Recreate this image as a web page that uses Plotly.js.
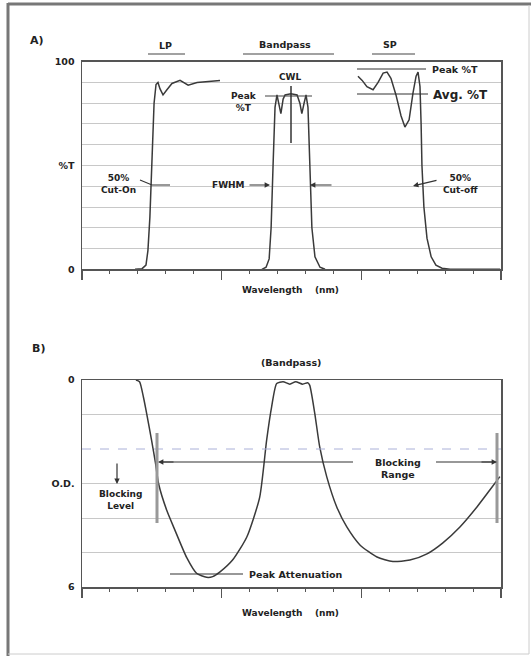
<!DOCTYPE html>
<html>
<head>
<meta charset="utf-8">
<script src="https://cdn.plot.ly/plotly-3.0.1.min.js"></script>
<style>html,body{margin:0;padding:0;background:#fff;}#chart{width:531px;height:656px;}</style>
</head>
<body>
<div id="chart"></div>
<script>
// ---- Data (wavelength in arbitrary units 0-15) ----
// Panel A: % transmission
const lpX = [1.90, 2.15, 2.29, 2.36, 2.43, 2.51, 2.58, 2.65, 2.72, 2.79, 2.90, 3.04, 3.22, 3.51, 3.80, 4.12, 4.48, 4.87, 4.94];
const lpY = [0, 0.3, 2, 9, 25, 55, 80, 89, 90, 87, 84, 86.5, 89.5, 91, 88.7, 90, 90.5, 91, 91];

const bpX = [6.44, 6.59, 6.70, 6.77, 6.84, 6.91, 6.98, 7.05, 7.12, 7.20, 7.27, 7.48, 7.70, 7.80, 7.87, 7.95, 8.02, 8.09, 8.16, 8.23, 8.34, 8.52, 8.70];
const bpY = [0, 1, 5, 20, 50, 78, 84, 80, 75, 82, 84, 84.5, 84, 80, 75, 80, 84, 78, 50, 20, 6, 1, 0];

const spX = [9.88, 10.03, 10.20, 10.42, 10.60, 10.78, 10.92, 11.06, 11.24, 11.42, 11.56, 11.71, 11.85, 11.96, 12.03, 12.10, 12.14, 12.17, 12.24, 12.35, 12.50, 12.67, 12.89, 13.18, 14.97];
const spY = [93, 91, 88, 86.5, 90, 94.5, 95, 92, 84, 74, 68.5, 72, 85, 93, 95, 88, 70, 50, 30, 15, 6, 2, 0.5, 0, 0];

// Panel B: optical density of the bandpass filter
const odX = [1.93, 2.06, 2.20, 2.31, 2.49, 2.63, 2.74, 3.03, 3.30, 3.75, 4.10, 4.46, 4.68, 4.93, 5.39, 5.90, 6.36, 6.61, 6.79, 6.97, 7.20, 7.44, 7.65, 7.90, 8.08, 8.15, 8.33, 8.51, 8.76, 9.12, 9.48, 9.95, 10.56, 11.13, 11.74, 12.35, 12.92, 13.53, 14.14, 14.60, 14.96];
const odY = [0.0, 0.05, 0.5, 0.95, 1.74, 2.4, 3.0, 3.77, 4.3, 5.15, 5.6, 5.72, 5.7, 5.57, 5.22, 4.55, 3.4, 1.74, 0.77, 0.1, 0.05, 0.12, 0.05, 0.12, 0.08, 0.15, 0.95, 1.94, 2.8, 3.68, 4.26, 4.78, 5.13, 5.26, 5.22, 5.04, 4.72, 4.26, 3.68, 3.19, 2.8];

const aTickVals = [0, 50, 100];
const aTickText = ['0', '%T', '100'];
const bTickVals = [0, 3, 6];
const bTickText = ['0', 'O.D.', '6'];

// ---- Layout helpers (pixel -> paper) ----
const W = 531, H = 656;
const px = v => v / W;
const py = v => 1 - v / H;
const FONT = {family: 'DejaVu Sans, Verdana, sans-serif', size: 9.5, color: '#222', weight: 700};
const f = (s) => Object.assign({}, FONT, s ? {size: s} : {});

function txt(x, y, t, opts) {
  return Object.assign({xref: 'paper', yref: 'paper', x: px(x), y: py(y), text: t, showarrow: false,
    font: f(), xanchor: 'center', yanchor: 'middle'}, opts || {});
}
function arrow(x, y, ax, ay) {
  return {xref: 'paper', yref: 'paper', x: px(x), y: py(y), ax: px(ax), ay: py(ay), axref: 'paper', ayref: 'paper',
    text: '', showarrow: true, arrowhead: 2, arrowsize: 0.9, arrowwidth: 1.2, arrowcolor: '#333'};
}
function seg(x0, y0, x1, y1, color, width, dash) {
  return {type: 'line', xref: 'paper', yref: 'paper', x0: px(x0), y0: py(y0), x1: px(x1), y1: py(y1),
    line: {color: color || '#333', width: width || 1.2, dash: dash || 'solid'}};
}

const lineStyle = {color: '#3a3a3a', width: 1.5};
const traces = [
  {x: lpX, y: lpY, xaxis: 'x', yaxis: 'y', mode: 'lines', line: lineStyle, hoverinfo: 'skip'},
  {x: bpX, y: bpY, xaxis: 'x', yaxis: 'y', mode: 'lines', line: lineStyle, hoverinfo: 'skip'},
  {x: spX, y: spY, xaxis: 'x', yaxis: 'y', mode: 'lines', line: lineStyle, hoverinfo: 'skip'},
  {x: odX, y: odY, xaxis: 'x2', yaxis: 'y2', mode: 'lines', line: lineStyle, hoverinfo: 'skip', line: {color: '#3a3a3a', width: 1.5, shape: 'spline', smoothing: 0.6}}
];

const xCommon = {
  range: [0, 15], showline: true, mirror: true, linecolor: '#555', linewidth: 1.5,
  showgrid: false, zeroline: false, showticklabels: false,
  tickmode: 'array', tickvals: [0, 5, 10, 15], ticks: 'outside', ticklen: 9, tickcolor: '#555', tickwidth: 1.2,
  minor: {dtick: 1, tick0: 0, ticks: 'outside', ticklen: 3, tickcolor: '#555', tickwidth: 1, showgrid: false}
};
const dom = [px(82), px(501)];

const layout = {
  width: W, height: H, margin: {l: 0, r: 0, t: 0, b: 0},
  paper_bgcolor: '#fff', plot_bgcolor: '#fff', showlegend: false,
  xaxis: Object.assign({}, xCommon, {domain: dom, anchor: 'y'}),
  yaxis: {domain: [py(269.3), py(61.7)], range: [0, 100], anchor: 'x',
    showline: true, mirror: true, linecolor: '#555', linewidth: 1.5, zeroline: false,
    tickmode: 'array', tickvals: aTickVals, ticktext: aTickText, ticks: '', tickfont: f(9.5), ticklabelstandoff: 4,
    showgrid: true, gridcolor: '#c8c8c8', gridwidth: 1,
    minor: {dtick: 10, tick0: 0, showgrid: true, gridcolor: '#c8c8c8', gridwidth: 1, ticks: ''}},
  xaxis2: Object.assign({}, xCommon, {domain: dom, anchor: 'y2'}),
  yaxis2: {domain: [py(587), py(380)], range: [6, 0], anchor: 'x2',
    showline: true, mirror: true, linecolor: '#555', linewidth: 1.5, zeroline: false,
    tickmode: 'array', tickvals: bTickVals, ticktext: bTickText, ticks: '', tickfont: f(9.5), ticklabelstandoff: 4,
    showgrid: true, gridcolor: '#c8c8c8', gridwidth: 1,
    minor: {tickmode: 'array', tickvals: [1, 4, 5], showgrid: true, gridcolor: '#c8c8c8', gridwidth: 1, ticks: ''}},
  shapes: [
    // outer frame
    seg(8, 4, 531, 4, '#777', 3),
    seg(8, 3, 8, 656, '#777', 3),
    seg(529, 5, 529, 654, '#ccc', 1),
    seg(8, 654, 529, 654, '#ccc', 1),
    // category underlines
    seg(148, 54, 185, 54, '#444', 1.2),
    seg(243, 54, 334, 54, '#444', 1.2),
    seg(372, 54, 415, 54, '#444', 1.2),
    // Panel A annotation lines
    {type: 'path', xref: 'paper', yref: 'paper', path: `M ${px(140)} ${py(180)} L ${px(152)} ${py(185)} L ${px(170)} ${py(185)}`, line: {color: '#333', width: 1.1}},
    seg(265, 96, 312, 96, '#444', 1.2),
    seg(291, 86, 291, 143, '#333', 1.5),
    seg(357, 69, 426, 69, '#333', 1.2),
    seg(357, 94, 428, 94, '#333', 1.2),
    // Panel B
    {type: 'line', xref: 'x2', yref: 'y2', x0: 0, x1: 15, y0: 2, y1: 2, line: {color: '#aab0d8', width: 1, dash: 'dash'}},
    seg(157, 433, 157, 523, '#999', 3),
    seg(497, 433, 497, 523, '#999', 3),
    seg(170, 574, 243, 574, '#333', 1.2),
    seg(160, 462, 353, 462, '#333', 1.2),
    seg(436, 462, 494, 462, '#333', 1.2)
  ],
  annotations: [
    txt(37, 40, 'A)', {font: f(11)}),
    txt(165, 45, 'LP'),
    txt(285, 44, 'Bandpass'),
    txt(390, 44, 'SP'),
    txt(118, 184, '50%<br>Cut-On', {font: f(9)}),
    txt(228, 185, 'FWHM', {font: f(9)}),
    arrow(270, 185, 248, 185),
    arrow(310, 185, 333, 185),
    txt(244, 102, 'Peak<br>%T', {font: f(9)}),
    txt(291, 77, 'CWL', {font: f(9)}),
    txt(430, 69, 'Peak %T', {xanchor: 'left', font: f(9.5)}),
    txt(431, 95, 'Avg. %T', {xanchor: 'left', font: f(12)}),
    txt(460, 184, '50%<br>Cut-off', {font: f(9)}),
    arrow(413, 186, 438, 180),
    txt(290, 290, 'Wavelength&nbsp;&nbsp;&nbsp;&nbsp;(nm)', {font: f(9)}),
    txt(38, 348, 'B)', {font: f(11)}),
    txt(291, 362, '(Bandpass)'),
    txt(247, 574, 'Peak Attenuation', {xanchor: 'left'}),
    txt(398, 468, 'Blocking<br>Range', {font: f(9.5)}),
    arrow(158, 462, 175, 462),
    arrow(497, 462, 480, 462),
    txt(120, 500, 'Blocking<br>Level', {font: f(9)}),
    arrow(117, 484, 117, 462),
    txt(290, 613, 'Wavelength&nbsp;&nbsp;&nbsp;&nbsp;(nm)', {font: f(9)})
  ]
};

Plotly.newPlot('chart', traces, layout, {staticPlot: true, displayModeBar: false});
</script>
</body>
</html>
